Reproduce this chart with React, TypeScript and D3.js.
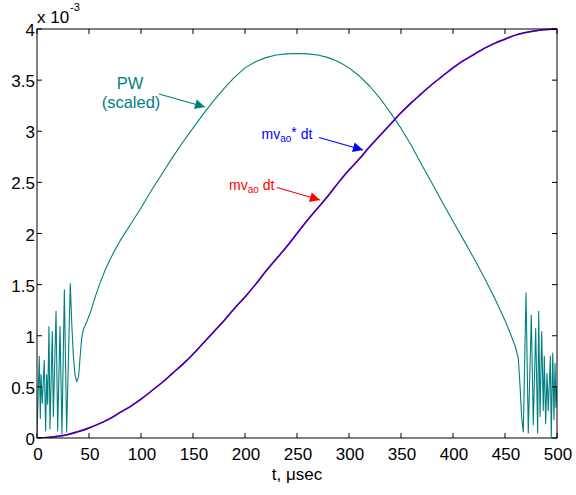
import React from "react";
import * as d3 from "d3";

// time axis in microseconds, values in units of 1e-3
const xTicks = [0, 50, 100, 150, 200, 250, 300, 350, 400, 450, 500];
const yTicks = [0, 0.5, 1, 1.5, 2, 2.5, 3, 3.5, 4];
const yTickLabels = ["0", "0.5", "1", "1.5", "2", "2.5", "3", "3.5", "4"];

const sTimes = [0, 10, 20, 30, 40, 50, 60, 70, 80, 90, 100, 110, 120, 130, 140, 150, 160, 170, 180, 190, 200,
  210, 220, 230, 240, 250, 260, 270, 280, 290, 300, 310, 320, 330, 340, 350, 360, 370, 380, 390, 400,
  410, 420, 430, 440, 450, 460, 470, 480, 490, 500];
// mv_ao dt (red)
const mvao = [0, 0.004, 0.016, 0.035, 0.063, 0.098, 0.14, 0.19, 0.25, 0.31, 0.38, 0.46, 0.54, 0.63, 0.72, 0.82,
  0.93, 1.04, 1.15, 1.27, 1.38, 1.5, 1.63, 1.75, 1.87, 2.0, 2.13, 2.25, 2.37, 2.5, 2.62, 2.73, 2.85, 2.96, 3.07,
  3.18, 3.28, 3.37, 3.46, 3.54, 3.62, 3.69, 3.75, 3.81, 3.86, 3.9, 3.94, 3.965, 3.984, 3.996, 4.0];
// mv_ao* dt (blue)
const mvaoStar = [0, 0.004, 0.016, 0.035, 0.063, 0.098, 0.14, 0.19, 0.25, 0.31, 0.38, 0.46, 0.54, 0.63, 0.72, 0.82,
  0.93, 1.04, 1.15, 1.27, 1.38, 1.5, 1.63, 1.75, 1.87, 2.0, 2.13, 2.25, 2.37, 2.5, 2.62, 2.73, 2.85, 2.96, 3.07,
  3.18, 3.28, 3.37, 3.46, 3.54, 3.62, 3.69, 3.75, 3.81, 3.86, 3.9, 3.94, 3.965, 3.984, 3.996, 3.998];

// PW (scaled)
const pwTimes = [0, 2.2, 3.2, 3.9, 5.1, 7.0, 8.3, 9.3, 10.3, 11.5, 12.5, 14.7, 15.7, 18.3, 19.9, 22.1, 24.0,
  26.3, 28.5, 32.0, 33.5, 35, 36.5, 38.2, 40, 41.5, 43, 44.5, 48, 52, 56, 60, 65, 70, 75, 80, 90, 100, 110, 120,
  130, 140, 150, 160, 170, 180, 190, 200, 210, 220, 230, 240, 250, 260, 270, 280, 290, 300, 310, 320, 330, 340,
  350, 360, 370, 380, 390, 400, 410, 420, 430, 440, 450, 456, 460, 462.8, 464.5, 466, 467.6, 470.2, 472.4, 475.3,
  477.2, 479.5, 481.4, 482.4, 483.7, 485.3, 486.8, 487.8, 489.1, 490.4, 491.6, 493.6, 494.5, 495.9, 497.1, 498.1,
  499, 500];
const pwValues = [0.05, 0.8, 0.19, 0.62, 0.34, 0.76, 0.07, 0.62, 0.33, 1.09, 0.09, 1.04, 0.21, 1.24, 0.07, 1.09,
  0.04, 1.45, 0.06, 1.51, 1.1, 0.8, 0.62, 0.55, 0.6, 0.8, 0.98, 1.06, 1.14, 1.25, 1.38, 1.5, 1.63, 1.74, 1.84,
  1.93, 2.09, 2.25, 2.42, 2.58, 2.74, 2.89, 3.03, 3.17, 3.3, 3.42, 3.53, 3.62, 3.68, 3.72, 3.745, 3.757, 3.76,
  3.757, 3.745, 3.72, 3.68, 3.62, 3.54, 3.44, 3.32, 3.18, 3.03, 2.86, 2.67, 2.49, 2.3, 2.12, 1.94, 1.76, 1.57,
  1.37, 1.15, 1.0, 0.89, 0.78, 0.5, 0.2, 0.06, 1.42, 0.05, 1.2, 0.13, 1.07, 0.05, 1.24, 0.21, 1.04, 0.27, 0.8,
  0.14, 0.63, 0.27, 0.8, 0.01, 0.83, 0.18, 0.73, 0.3, 0.5];

const FONT = "'Liberation Sans', Arial, Helvetica, sans-serif";

export default function App() {
  const L = 37, R = 557, T = 29, B = 438;
  const x = d3.scaleLinear().domain([0, 500]).range([L, R]);
  const y = d3.scaleLinear().domain([0, 4]).range([B, T]);

  const line = d3.line<[number, number]>().x(d => x(d[0])).y(d => y(d[1]));
  const smooth = d3.line<[number, number]>().x(d => x(d[0])).y(d => y(d[1])).curve(d3.curveMonotoneX);

  const redPath = smooth(sTimes.map((t, i) => [t, mvao[i]]) as [number, number][]) || "";
  const bluePath = smooth(sTimes.map((t, i) => [t, mvaoStar[i]]) as [number, number][]) || "";
  const pwPath = line(pwTimes.map((t, i) => [t, pwValues[i]]) as [number, number][]) || "";

  const tickLen = 5;
  const teal = "#008080";

  return (
    <svg width={576} height={495} style={{ position: "absolute", left: 0, top: 0, background: "#fff" }}
      fontFamily={FONT}>
      <defs>
        <marker id="hTeal" viewBox="0 0 10 10" refX="10" refY="5" markerWidth="14" markerHeight="10"
          markerUnits="userSpaceOnUse" orient="auto">
          <path d="M0,0 L10,5 L0,10 z" fill={teal} />
        </marker>
        <marker id="hBlue" viewBox="0 0 10 10" refX="10" refY="5" markerWidth="14" markerHeight="10"
          markerUnits="userSpaceOnUse" orient="auto">
          <path d="M0,0 L10,5 L0,10 z" fill="#0000ff" />
        </marker>
        <marker id="hRed" viewBox="0 0 10 10" refX="10" refY="5" markerWidth="14" markerHeight="10"
          markerUnits="userSpaceOnUse" orient="auto">
          <path d="M0,0 L10,5 L0,10 z" fill="#ff0000" />
        </marker>
        <clipPath id="plotClip">
          <rect x={L} y={T - 2} width={R - L} height={B - T + 2} />
        </clipPath>
      </defs>

      <g clipPath="url(#plotClip)">
        <path d={pwPath} fill="none" stroke={teal} strokeWidth={1.1} strokeLinejoin="round" />
        <path d={redPath} fill="none" stroke="#ff0000" strokeWidth={1.5} />
        <path d={bluePath} fill="none" stroke="#0000ff" strokeWidth={1.5} strokeOpacity={0.8} />
      </g>

      {/* frame */}
      <rect x={L} y={T} width={R - L} height={B - T} fill="none" stroke="#000" strokeWidth={1} />

      {/* x ticks */}
      {xTicks.map(t => (
        <g key={"x" + t}>
          <line x1={x(t)} x2={x(t)} y1={B} y2={B - tickLen} stroke="#000" />
          <line x1={x(t)} x2={x(t)} y1={T} y2={T + tickLen} stroke="#000" />
          <text x={x(t) + 1} y={460} textAnchor="middle" fontSize={17} fill="#000">{t}</text>
        </g>
      ))}
      {/* y ticks */}
      {yTicks.map((v, i) => (
        <g key={"y" + v}>
          <line x1={L} x2={L + tickLen} y1={y(v)} y2={y(v)} stroke="#000" />
          <line x1={R} x2={R - tickLen} y1={y(v)} y2={y(v)} stroke="#000" />
          <text x={35} y={y(v) + 7} textAnchor="end" fontSize={17} fill="#000">{yTickLabels[i]}</text>
        </g>
      ))}

      {/* exponent */}
      <text x={37} y={22.5} fontSize={17} fill="#000">x 10</text>
      <text x={70} y={11} fontSize={11} fill="#000">-3</text>

      {/* x label */}
      <text x={297} y={480} textAnchor="middle" fontSize={17} fill="#000">t, μsec</text>

      {/* PW label */}
      <text x={130} y={89} textAnchor="middle" fontSize={16.5} fill={teal}>PW</text>
      <text x={131} y={108} textAnchor="middle" fontSize={16.5} fill={teal}>(scaled)</text>
      <line x1={159} y1={94} x2={205} y2={107} stroke={teal} strokeWidth={1.2} markerEnd="url(#hTeal)" />

      {/* mv_ao* dt label */}
      <text x={261.5} y={138.5} fontSize={14} fill="#0000ff">
        mv<tspan fontSize={10} dy={3}>ao</tspan><tspan dy={-5}>*</tspan><tspan dy={2}> dt</tspan>
      </text>
      <line x1={319} y1={137.5} x2={363} y2={150} stroke="#0000ff" strokeWidth={1.2} markerEnd="url(#hBlue)" />

      {/* mv_ao dt label */}
      <text x={229} y={190} fontSize={14} fill="#ff0000">
        mv<tspan fontSize={10} dy={3}>ao</tspan><tspan dy={-3}> dt</tspan>
      </text>
      <line x1={277} y1={187.5} x2={320} y2={200} stroke="#ff0000" strokeWidth={1.2} markerEnd="url(#hRed)" />
    </svg>
  );
}
